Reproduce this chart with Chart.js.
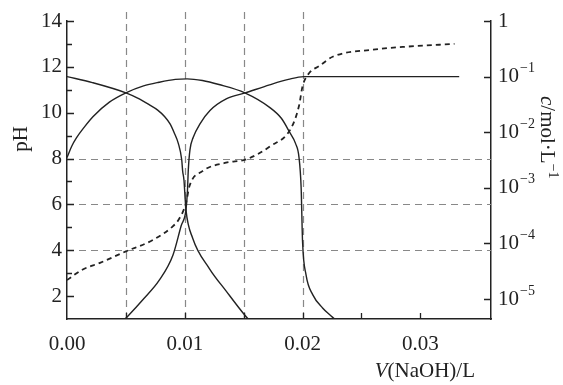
<!DOCTYPE html>
<html>
<head>
<meta charset="utf-8">
<script src="https://cdn.jsdelivr.net/npm/chart.js@4.4.1/dist/chart.umd.min.js"></script>
<style>
  html, body { margin: 0; padding: 0; background: #fff; }
  #wrap { width: 563px; height: 385px; }
</style>
</head>
<body>
<div id="wrap"><canvas id="titration"></canvas></div>
<script>
// pH curve (dashed), V(NaOH) in L
const phVol = [0, 0.0013, 0.0028, 0.005, 0.0073, 0.009, 0.0095, 0.0101, 0.0104, 0.0115, 0.0135, 0.0152, 0.0173, 0.019, 0.0197, 0.02, 0.0206, 0.0214, 0.0226, 0.026, 0.0288, 0.0329];
const phVal = [2.7, 3.15, 3.45, 3.95, 4.45, 5.05, 5.35, 6.05, 6.8, 7.45, 7.82, 7.96, 8.55, 9.3, 10.3, 11.15, 11.75, 12.03, 12.45, 12.75, 12.88, 13.0];

// species concentrations in mol/L (right log axis)
const h2aVol = [0, 0.00215, 0.005, 0.006, 0.007, 0.0077, 0.0083, 0.00875, 0.0091, 0.00945, 0.00974, 0.00982, 0.00993, 0.01004, 0.0101, 0.01068, 0.0121, 0.0135, 0.01507, 0.0156];
const h2aConc = [0.1, 0.078, 0.051, 0.041, 0.031, 0.025, 0.019, 0.0141, 0.0098, 0.0063, 0.0032, 0.002, 1.38e-3, 6.0e-4, 4.0e-4, 1.23e-4, 3.5e-5, 1.4e-5, 5.2e-6, 3.9e-6];

const haVol = [0, 0.0004, 0.0008, 0.0015, 0.0022, 0.0036, 0.005, 0.0065, 0.0078, 0.0092, 0.0102, 0.0115, 0.0129, 0.0151, 0.0172, 0.0182, 0.0189, 0.0194, 0.0197, 0.01988, 0.02, 0.0203, 0.02086, 0.0217, 0.0224, 0.023];
const haConc = [3.5e-3, 5.6e-3, 7.9e-3, 0.0126, 0.019, 0.0347, 0.051, 0.068, 0.079, 0.089, 0.091, 0.085, 0.072, 0.051, 0.028, 0.0178, 0.01, 0.0063, 0.0035, 1.0e-3, 1.07e-4, 2.7e-5, 1.2e-5, 6.9e-6, 5.0e-6, 3.9e-6];

const a2Vol = [0.0047, 0.0052, 0.0064, 0.00785, 0.009, 0.0097, 0.0101, 0.01023, 0.0103, 0.01044, 0.01072, 0.01129, 0.01214, 0.01356, 0.01514, 0.0172, 0.0188, 0.0201, 0.0333];
const a2Conc = [3.9e-6, 5.0e-6, 9.5e-6, 2.2e-5, 6.2e-5, 2.1e-4, 4.0e-4, 9.1e-4, 2.1e-3, 4.8e-3, 8.1e-3, 0.0141, 0.0245, 0.04, 0.051, 0.071, 0.089, 0.1, 0.1];

// ticks and grid
const xLabelTicks = [0, 0.01, 0.02, 0.03];
const xMarks = [0.005, 0.01, 0.015, 0.02, 0.025, 0.03];
const phLabelTicks = [2, 4, 6, 8, 10, 12, 14];
const concTicks = [1, 1e-1, 1e-2, 1e-3, 1e-4, 1e-5];
const concExp = ['', '\u22121', '\u22122', '\u22123', '\u22124', '\u22125'];
const xGrid = [0.005, 0.01, 0.015, 0.02];
const phGrid = [4, 6, 8];

const SERIF = "'Liberation Serif', 'Times New Roman', serif";
const INK = '#222';

const pts = (xs, ys) => xs.map((x, i) => ({ x: x, y: ys[i] }));

function drawRuns(ctx, runs, x, y) {
  runs.forEach(r => {
    ctx.font = r[1];
    ctx.fillText(r[0], x, y + (r[2] || 0));
    x += ctx.measureText(r[0]).width;
  });
}
function runsWidth(ctx, runs) {
  let w = 0;
  runs.forEach(r => { ctx.font = r[1]; w += ctx.measureText(r[0]).width; });
  return w;
}

const decor = {
  id: 'decor',
  beforeDatasetsDraw(chart) {
    const { ctx, chartArea: a, scales: { x, yPh } } = chart;
    ctx.save();
    ctx.strokeStyle = '#888';
    ctx.lineWidth = 1.2;
    ctx.setLineDash([7, 5]);
    xGrid.forEach(v => {
      const px = Math.round(x.getPixelForValue(v)) + 0.5;
      ctx.beginPath(); ctx.moveTo(px, a.bottom); ctx.lineTo(px, 8); ctx.stroke();
    });
    phGrid.forEach(v => {
      const py = Math.round(yPh.getPixelForValue(v)) + 0.5;
      ctx.beginPath(); ctx.moveTo(a.left, py); ctx.lineTo(a.right, py); ctx.stroke();
    });
    ctx.restore();
  },
  afterDraw(chart) {
    const { ctx, chartArea: a, scales: { x, yPh, yC } } = chart;
    ctx.save();
    ctx.strokeStyle = INK;
    ctx.lineWidth = 1.3;
    ctx.beginPath();
    // inward ticks, left (major even, minor odd)
    for (let p = 2; p <= 14; p++) {
      const py = Math.round(yPh.getPixelForValue(p)) + 0.5;
      ctx.moveTo(a.left, py); ctx.lineTo(a.left + (p % 2 ? 5 : 7), py);
    }
    // right
    concTicks.forEach(v => {
      const py = Math.round(yC.getPixelForValue(v)) + 0.5;
      ctx.moveTo(a.right, py); ctx.lineTo(a.right - 7, py);
    });
    // bottom
    xMarks.forEach(v => {
      const px = Math.round(x.getPixelForValue(v)) + 0.5;
      ctx.moveTo(px, a.bottom); ctx.lineTo(px, a.bottom - 6);
    });
    ctx.stroke();

    ctx.fillStyle = INK;
    // right tick labels 10^n
    ctx.textAlign = 'left';
    ctx.textBaseline = 'middle';
    concTicks.forEach((v, i) => {
      const py = yC.getPixelForValue(v);
      const base = i === 0 ? '1' : '10';
      ctx.font = '21px ' + SERIF;
      ctx.fillText(base, a.right + 7, py);
      if (concExp[i]) {
        const w = ctx.measureText(base).width;
        ctx.font = '14px ' + SERIF;
        ctx.fillText(concExp[i], a.right + 8 + w, py - 8);
      }
    });

    // axis titles
    ctx.textBaseline = 'alphabetic';
    ctx.save();
    ctx.translate(27, 139);
    ctx.rotate(-Math.PI / 2);
    ctx.textAlign = 'center';
    ctx.font = '21px ' + SERIF;
    ctx.fillText('pH', 0, 0);
    ctx.restore();

    ctx.save();
    ctx.translate(541, 96);
    ctx.rotate(Math.PI / 2);
    ctx.textAlign = 'left';
    drawRuns(ctx, [
      ['c', 'italic 21px ' + SERIF],
      ['/mol\u00B7L', '21px ' + SERIF],
      ['\u22121', '14px ' + SERIF, -8]
    ], 0, 0);
    ctx.restore();

    const xRuns = [
      ['V', 'italic 21px ' + SERIF],
      ['(NaOH)/L', '21px ' + SERIF]
    ];
    ctx.textAlign = 'left';
    drawRuns(ctx, xRuns, 475 - runsWidth(ctx, xRuns), 377);
    ctx.restore();
  }
};

const lineStyle = {
  borderColor: INK,
  borderWidth: 1.4,
  pointRadius: 0,
  fill: false,
  cubicInterpolationMode: 'monotone',
  clip: 0
};

new Chart(document.getElementById('titration').getContext('2d'), {
  type: 'line',
  data: {
    datasets: [
      Object.assign({ label: 'pH', data: pts(phVol, phVal), yAxisID: 'yPh' }, lineStyle,
        { borderDash: [5, 4], borderWidth: 1.8 }),
      Object.assign({ label: 'H2A', data: pts(h2aVol, h2aConc), yAxisID: 'yC' }, lineStyle),
      Object.assign({ label: 'HA-', data: pts(haVol, haConc), yAxisID: 'yC' }, lineStyle),
      Object.assign({ label: 'A2-', data: pts(a2Vol, a2Conc), yAxisID: 'yC' }, lineStyle)
    ]
  },
  options: {
    responsive: true,
    maintainAspectRatio: false,
    animation: false,
    layout: { padding: { top: 21, left: 0, right: 0, bottom: 0 } },
    plugins: { legend: { display: false }, tooltip: { enabled: false } },
    scales: {
      x: {
        type: 'linear',
        min: 0, max: 0.036,
        afterBuildTicks: s => { s.ticks = xLabelTicks.map(v => ({ value: v })); },
        ticks: {
          color: INK, padding: 13, autoSkip: false, maxRotation: 0,
          font: { family: SERIF, size: 21 },
          callback: v => v.toFixed(2)
        },
        grid: { display: true, drawOnChartArea: false, drawTicks: false },
        border: { color: INK, width: 1.5 },
        afterFit: s => { s.height = 66; }
      },
      yPh: {
        type: 'linear',
        position: 'left',
        min: 1, max: 14,
        afterBuildTicks: s => { s.ticks = phLabelTicks.map(v => ({ value: v })); },
        ticks: { color: INK, padding: 5, font: { family: SERIF, size: 21 } },
        grid: { display: true, drawOnChartArea: false, drawTicks: false },
        border: { color: INK, width: 1.5 },
        afterFit: s => { s.width = 67; }
      },
      yC: {
        type: 'logarithmic',
        position: 'right',
        min: 4.37e-6, max: 1,
        afterBuildTicks: s => { s.ticks = concTicks.map(v => ({ value: v })); },
        ticks: { display: false },
        grid: { display: true, drawOnChartArea: false, drawTicks: false },
        border: { color: INK, width: 1.5 },
        afterFit: s => { s.width = 72; }
      }
    }
  },
  plugins: [decor]
});
</script>
</body>
</html>
